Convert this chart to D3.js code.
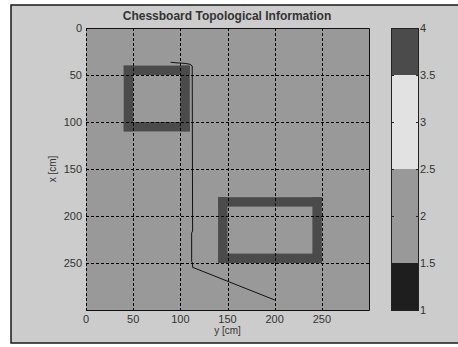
<!DOCTYPE html>
<html>
<head>
<meta charset="utf-8">
<script src="https://cdn.jsdelivr.net/npm/d3@7"></script>
<style>
  body { margin: 0; background: #fff; }
  text { font-family: "Liberation Sans", Arial, sans-serif; fill: #333; }
</style>
</head>
<body>
<div id="chart"></div>
<script>
// chart data
const axisTicks = [0, 50, 100, 150, 200, 250];
const freeValue = 2;
const wallValue = 4;
const wallThickness = 10;
// obstacle outer bounds in cm: rows (x) and cols (y)
const obstacleRows = [[40, 110], [180, 250]];
const obstacleCols = [[40, 110], [140, 250]];
// robot path, y [cm] (horizontal) and x [cm] (vertical)
const pathY = [89.7, 97.5, 104.9, 110.2, 112.6, 113, 112, 112, 113, 113, 200.2];
const pathX = [36.5, 37.2, 37.6, 38.6, 40.4, 216, 218, 248.6, 250, 254.6, 289.4];
// colorbar
const colorBreaks = [1.5, 2.5, 3.5];
const colorShades = ["#1e1e1e", "#999999", "#e2e2e2", "#4b4b4b"];
const colorbarTicks = [1, 1.5, 2, 2.5, 3, 3.5, 4];

const W = 458, H = 347;
const svg = d3.select("#chart").append("svg").attr("width", W).attr("height", H);

// figure frame
svg.append("rect").attr("x", 11).attr("y", 5).attr("width", 460).attr("height", 338)
    .attr("fill", "#cccccc").attr("stroke", "#1a1a1a").attr("stroke-width", 1.5);

const xs = d3.scaleLinear().domain([0, 300]).range([86, 369]);   // y [cm]
const ys = d3.scaleLinear().domain([0, 300]).range([28, 310]);   // x [cm]
const color = d3.scaleThreshold().domain(colorBreaks).range(colorShades);

// background (free space)
svg.append("rect").attr("x", xs(0)).attr("y", ys(0))
    .attr("width", xs(300) - xs(0)).attr("height", ys(300) - ys(0))
    .attr("fill", color(freeValue));

// obstacle walls
const walls = [];
obstacleRows.forEach((r, i) => {
    const c = obstacleCols[i];
    walls.push({ r0: r[0], r1: r[0] + wallThickness, c0: c[0], c1: c[1] });
    walls.push({ r0: r[1] - wallThickness, r1: r[1], c0: c[0], c1: c[1] });
    walls.push({ r0: r[0], r1: r[1], c0: c[0], c1: c[0] + wallThickness });
    walls.push({ r0: r[0], r1: r[1], c0: c[1] - wallThickness, c1: c[1] });
});
svg.append("g").selectAll("rect").data(walls).join("rect")
    .attr("x", d => xs(d.c0)).attr("y", d => ys(d.r0))
    .attr("width", d => xs(d.c1) - xs(d.c0)).attr("height", d => ys(d.r1) - ys(d.r0))
    .attr("fill", color(wallValue));

// path
const line = d3.line().x(d => xs(d[0])).y(d => ys(d[1]));
svg.append("path").datum(pathY.map((v, i) => [v, pathX[i]]))
    .attr("d", line).attr("fill", "none").attr("stroke", "#111").attr("stroke-width", 1);

// dashed grid
const grid = svg.append("g").attr("stroke", "#000").attr("stroke-width", 1).attr("stroke-dasharray", "3,2");
grid.selectAll("line.v").data(axisTicks).join("line").attr("class", "v")
    .attr("x1", d => Math.round(xs(d)) + 0.5).attr("x2", d => Math.round(xs(d)) + 0.5)
    .attr("y1", ys(0)).attr("y2", ys(300));
grid.selectAll("line.h").data(axisTicks.filter(d => d > 0)).join("line").attr("class", "h")
    .attr("y1", d => Math.round(ys(d)) + 0.5).attr("y2", d => Math.round(ys(d)) + 0.5)
    .attr("x1", xs(0)).attr("x2", xs(300));

// axes box (top, right, bottom solid)
svg.append("path")
    .attr("d", `M${xs(0)},${ys(0) + 0.5}H${xs(300) + 0.5}V${ys(300) + 0.5}H${xs(0)}`)
    .attr("fill", "none").attr("stroke", "#111").attr("stroke-width", 1);

// tick labels
svg.append("g").selectAll("text").data(axisTicks).join("text")
    .attr("x", d => xs(d)).attr("y", 323).attr("text-anchor", "middle")
    .attr("font-size", 11).text(d => d);
svg.append("g").selectAll("text").data(axisTicks).join("text")
    .attr("x", 82).attr("y", d => ys(d) + 4).attr("text-anchor", "end")
    .attr("font-size", 11).text(d => d);

// axis labels
svg.append("text").attr("x", xs(150)).attr("y", 334).attr("text-anchor", "middle")
    .attr("font-size", 10).text("y [cm]");
svg.append("text").attr("transform", `translate(56,${ys(150)}) rotate(-90)`)
    .attr("text-anchor", "middle").attr("font-size", 10).text("x [cm]");

// title
svg.append("text").attr("x", 227).attr("y", 20).attr("text-anchor", "middle")
    .attr("font-size", 12).attr("font-weight", "bold").text("Chessboard Topological Information");

// colorbar
const cbX0 = 391, cbX1 = 418;
const cs = d3.scaleLinear().domain([1, 4]).range([310, 28]);
const bands = [1].concat(colorBreaks).map((lo, i, arr) => ({ lo: lo, hi: i < arr.length - 1 ? arr[i + 1] : 4 }));
svg.append("g").selectAll("rect").data(bands).join("rect")
    .attr("x", cbX0).attr("width", cbX1 - cbX0)
    .attr("y", d => cs(d.hi)).attr("height", d => cs(d.lo) - cs(d.hi))
    .attr("fill", d => color((d.lo + d.hi) / 2));
svg.append("rect").attr("x", cbX0 + 0.5).attr("y", cs(4) + 0.5)
    .attr("width", cbX1 - cbX0).attr("height", cs(1) - cs(4))
    .attr("fill", "none").attr("stroke", "#222").attr("stroke-width", 1);
const cbt = svg.append("g").selectAll("g").data(colorbarTicks).join("g");
cbt.append("line").attr("x1", cbX0).attr("x2", cbX0 + 3)
    .attr("y1", d => Math.round(cs(d)) + 0.5).attr("y2", d => Math.round(cs(d)) + 0.5).attr("stroke", "#222");
cbt.append("line").attr("x1", cbX1 - 2).attr("x2", cbX1 + 1)
    .attr("y1", d => Math.round(cs(d)) + 0.5).attr("y2", d => Math.round(cs(d)) + 0.5).attr("stroke", "#222");
cbt.append("text").attr("x", cbX1 + 2).attr("y", d => cs(d) + 4)
    .attr("font-size", 11).text(d => d);
</script>
</body>
</html>
